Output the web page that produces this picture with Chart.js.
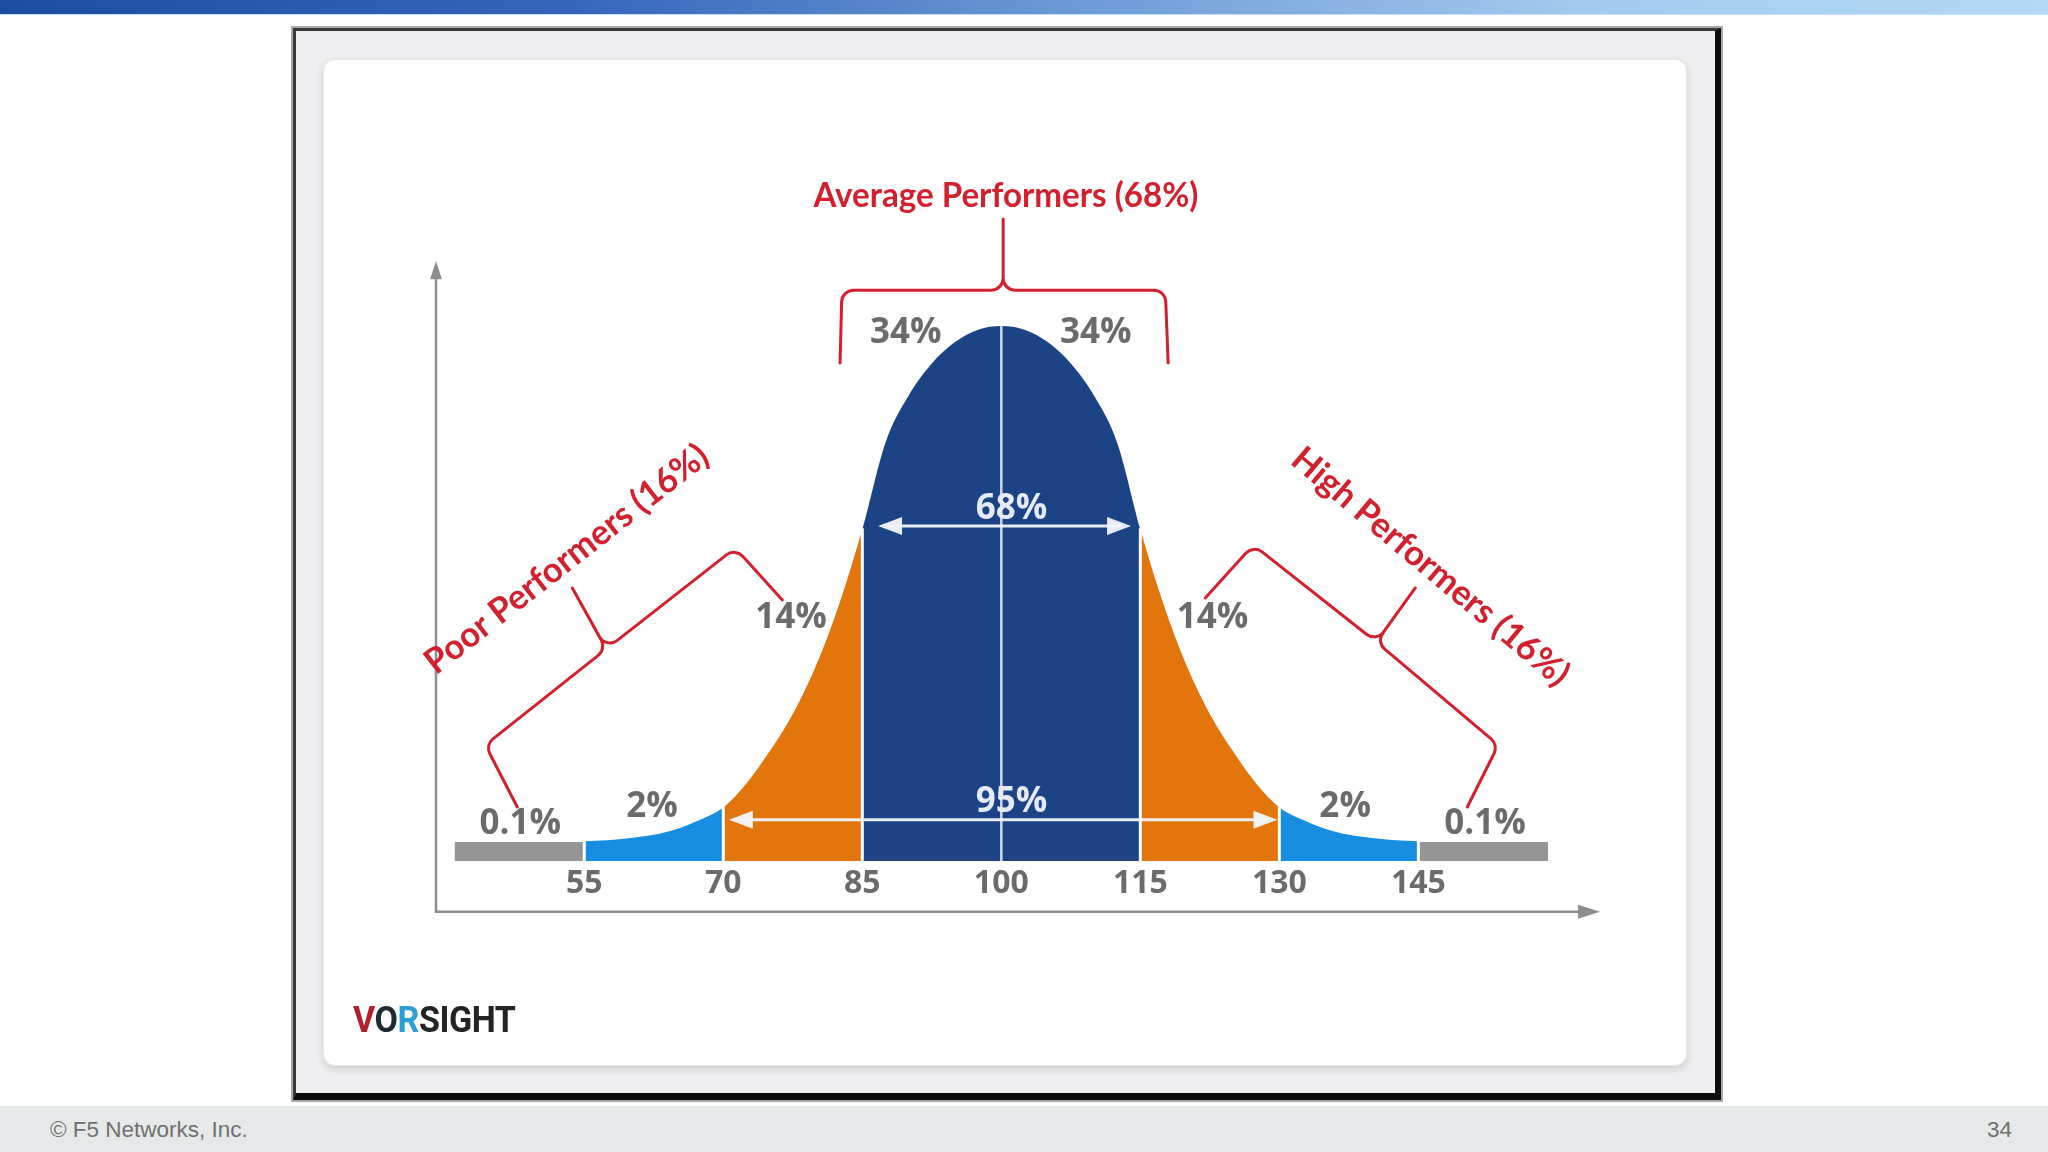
<!DOCTYPE html>
<html>
<head>
<meta charset="utf-8">
<title>Performance distribution</title>
<script src="https://cdn.jsdelivr.net/npm/chart.js@4.4.1/dist/chart.umd.min.js"></script>
<style>
	html, body { margin: 0; padding: 0; background: #fff; }
	#slide { position: relative; width: 2048px; height: 1152px; overflow: hidden; font-family: "Liberation Sans", Arial, sans-serif; }
	#topbar { position: absolute; left: 0; top: 0; width: 2048px; height: 14px; border-bottom: 1px solid #c6dcf3;
		background: linear-gradient(to right, #1b4ea3 0%, #3566ba 28%, #729fd9 55%, #a3ccef 78%, #b4d8f3 100%); }
	#frame { position: absolute; left: 293px; top: 28px; width: 1419px; height: 1062px; background: #efeef1;
		border-style: solid; border-width: 3px 6px 7px 3px; border-color: #3b3b3b #0d0d0d #0d0d0d #3b3b3b;
		box-shadow: 0 0 0 2px #a9a9a9; }
	#panel { position: absolute; left: 27px; top: 28px; width: 1362px; height: 1005px; background: #fff;
		border-radius: 12px; border: 1px solid #e8e8e8; box-shadow: 0 3px 9px rgba(0,0,0,0.15); }
	#logo { position: absolute; left: 353px; top: 1001px; font-family: Roboto, sans-serif; font-weight: 700; font-size: 37px;
		line-height: 1; letter-spacing: -0.5px; color: #232323; transform: scaleX(0.92); transform-origin: left top; z-index: 4; }
	#footer { position: absolute; left: 0; top: 1106px; width: 2048px; height: 46px; background: #e6e9ea; color: #707070; font-size: 22.5px; }
	#footer .left { position: absolute; left: 50px; top: 11px; }
	#footer .right { position: absolute; right: 36px; top: 11px; }
	#chart { position: absolute; left: 0; top: 0; width: 2048px; height: 1152px; z-index: 3; }
</style>
</head>
<body>
<div id="slide">
	<div id="topbar"></div>
	<div id="frame"><div id="panel"></div></div>
	<div id="logo"><span style="color:#b3202d">V</span><span style="color:#1f2a33">O</span><span style="color:#2b9fd6">R</span>SIGHT</div>
	<canvas id="chart" width="2048" height="1152"></canvas>
	<div id="footer"><span class="left">© F5 Networks, Inc.</span><span class="right">34</span></div>
</div>
<script>
// curve height (peak = 100)
var curveX = [55, 57.5, 60, 62.5, 65, 67.5, 70, 72.5, 75, 77.5, 80, 82.5, 85, 87.5, 90, 92.5, 95, 97.5, 100,
	102.5, 105, 107.5, 110, 112.5, 115, 117.5, 120, 122.5, 125, 127.5, 130, 132.5, 135, 137.5, 140, 142.5, 145];
var curveY = [3.7, 3.9, 4.3, 4.9, 6.0, 7.7, 10.0, 14.5, 20.5, 27.5, 36.5, 48.0, 62.0, 78.2, 87.0, 93.0, 97.0, 99.3, 100,
	99.3, 97.0, 93.0, 87.0, 78.2, 62.0, 48.0, 36.5, 27.5, 20.5, 14.5, 10.0, 7.7, 6.0, 4.9, 4.3, 3.9, 3.7];

var bandEdges = [55, 70, 85, 115, 130, 145];
var tailSpans = [[41, 55], [145, 159]];
var tailHeight = 3.55;
var tickValues = [55, 70, 85, 100, 115, 130, 145];

var shareLabels = ['0.1%', '2%', '14%', '34%', '34%', '14%', '2%', '0.1%'];
var spanLabels = ['68%', '95%'];
var groupLabels = ['Poor Performers (16%)', 'Average Performers (68%)', 'High Performers (16%)'];

// layout of the annotations, in axis units
var sharePos = [[48.1, 6.9], [62.3, 10.1], [77.3, 45.4], [89.7, 98.7], [110.2, 98.7], [122.8, 45.4], [137.1, 10.1], [152.2, 6.9]];
var spanArrows = [
	{ from: 86.7, to: 114.0, y: 62.6, lx: 101.1, ly: 65.8 },
	{ from: 70.6, to: 129.8, y: 7.7, lx: 101.1, ly: 11.0 }
];
var groupPos = [
	{ x: 53.1, y: 56.4, angle: -38, width: 349 },
	{ x: 100.5, y: 124.3, angle: 0, width: 385 },
	{ x: 146.3, y: 55.0, angle: 40, width: 350 }
];
var braces = [
	[[47.77, 10.09], [44.32, 21.68], [57.37, 39.63], [53.71, 51.03], [57.37, 39.63], [71.29, 58.5], [76.37, 48.79]],
	[[82.6, 93.1], [82.8, 106.7], [100.2, 106.7], [100.2, 120.0], [100.2, 106.7], [117.7, 106.7], [118.0, 93.1]],
	[[122.01, 49.16], [127.19, 59.07], [140.46, 40.93], [144.67, 51.03], [140.46, 40.93], [153.63, 21.68], [150.28, 10.09]]
];
var axisFrom = { x: 39, y: -9.5 };
var axisTo = { x: 164.6, y: 112.1 };

var bandColors = ['#168de0', '#e2760c', '#1c4386', '#e2760c', '#168de0'];
var tailColor = '#959595';
var textGrey = '#6b6b6b';
var red = '#d3202f';

function bandColorAt(x) {
	for (var i = 0; i < bandEdges.length - 1; i++) {
		if (x >= bandEdges[i] && x <= bandEdges[i + 1]) return bandColors[i];
	}
	return tailColor;
}

function heightAt(x) {
	var i = curveX.indexOf(x);
	return i < 0 ? tailHeight : curveY[i];
}

var curvePoints = [];
for (var i = 0; i < curveX.length; i++) {
	curvePoints.push({ x: curveX[i], y: curveY[i] });
}

var datasets = [{
	label: 'curve',
	data: curvePoints,
	fill: 'origin',
	borderWidth: 0,
	pointRadius: 0,
	cubicInterpolationMode: 'monotone',
	backgroundColor: bandColors[2],
	segment: {
		backgroundColor: function(ctx) {
			return bandColorAt((ctx.p0.parsed.x + ctx.p1.parsed.x) / 2);
		}
	}
}];
tailSpans.forEach(function(s) {
	datasets.push({
		label: 'tail',
		data: [{ x: s[0], y: tailHeight }, { x: s[1], y: tailHeight }],
		fill: 'origin',
		borderWidth: 0,
		pointRadius: 0,
		backgroundColor: tailColor
	});
});

function arrowHead(ctx, x, y, dx, dy, len, half) {
	ctx.beginPath();
	ctx.moveTo(x, y);
	ctx.lineTo(x - dx * len - dy * half, y - dy * len + dx * half);
	ctx.lineTo(x - dx * len + dy * half, y - dy * len - dx * half);
	ctx.closePath();
	ctx.fill();
}

function fitText(ctx, text, x, y, angle, width, font, color) {
	ctx.save();
	ctx.translate(x, y);
	ctx.rotate(angle * Math.PI / 180);
	ctx.font = font;
	var w = ctx.measureText(text).width;
	if (width) ctx.scale(width / w, 1);
	ctx.fillStyle = color;
	ctx.textAlign = 'center';
	ctx.textBaseline = 'middle';
	ctx.fillText(text, 0, 0);
	ctx.restore();
}

var decorations = {
	id: 'decorations',
	beforeDatasetsDraw: function(chart) {
		var ctx = chart.ctx, xs = chart.scales.x, ys = chart.scales.y;
		var x0 = xs.getPixelForValue(axisFrom.x), y0 = ys.getPixelForValue(axisFrom.y);
		var x1 = xs.getPixelForValue(axisTo.x), y1 = ys.getPixelForValue(axisTo.y);
		ctx.save();
		ctx.strokeStyle = '#8e8e8e';
		ctx.fillStyle = '#8e8e8e';
		ctx.lineWidth = 2.5;
		ctx.beginPath();
		ctx.moveTo(x0, y1 + 10);
		ctx.lineTo(x0, y0);
		ctx.lineTo(x1 - 10, y0);
		ctx.stroke();
		arrowHead(ctx, x0, y1, 0, -1, 18, 6);
		arrowHead(ctx, x1, y0, 1, 0, 22, 7);
		ctx.restore();
	},
	afterDatasetsDraw: function(chart) {
		var ctx = chart.ctx, xs = chart.scales.x, ys = chart.scales.y;
		var base = ys.getPixelForValue(0);
		ctx.save();

		// white gaps between the bands
		ctx.strokeStyle = '#ffffff';
		ctx.lineWidth = 3;
		bandEdges.forEach(function(e) {
			var px = xs.getPixelForValue(e);
			ctx.beginPath();
			ctx.moveTo(px, base + 1);
			ctx.lineTo(px, ys.getPixelForValue(heightAt(e)) - 1);
			ctx.stroke();
		});
		ctx.strokeStyle = 'rgba(214,226,244,0.95)';
		ctx.lineWidth = 2.5;
		ctx.beginPath();
		ctx.moveTo(xs.getPixelForValue(100), base);
		ctx.lineTo(xs.getPixelForValue(100), ys.getPixelForValue(heightAt(100)));
		ctx.stroke();

		// 68% and 95% spans
		spanArrows.forEach(function(a, i) {
			var ax0 = xs.getPixelForValue(a.from), ax1 = xs.getPixelForValue(a.to), ay = ys.getPixelForValue(a.y);
			ctx.strokeStyle = 'rgba(242,245,252,0.95)';
			ctx.fillStyle = 'rgba(242,245,252,0.95)';
			ctx.lineWidth = 3;
			ctx.beginPath();
			ctx.moveTo(ax0 + 10, ay);
			ctx.lineTo(ax1 - 10, ay);
			ctx.stroke();
			arrowHead(ctx, ax0, ay, -1, 0, 24, 9);
			arrowHead(ctx, ax1, ay, 1, 0, 24, 9);
			fitText(ctx, spanLabels[i], xs.getPixelForValue(a.lx), ys.getPixelForValue(a.ly), 0, 0,
				'bold 35px "Open Sans"', '#e4eaf6');
		});

		shareLabels.forEach(function(t, i) {
			fitText(ctx, t, xs.getPixelForValue(sharePos[i][0]), ys.getPixelForValue(sharePos[i][1]), 0, 0,
				'bold 35px "Open Sans"', textGrey);
		});

		// red braces and group titles
		ctx.strokeStyle = red;
		ctx.lineWidth = 3;
		ctx.lineJoin = 'round';
		ctx.lineCap = 'round';
		braces.forEach(function(b) {
			var pts = b.map(function(p) { return [xs.getPixelForValue(p[0]), ys.getPixelForValue(p[1])]; });
			ctx.beginPath();
			ctx.moveTo(pts[0][0], pts[0][1]);
			for (var k = 1; k < pts.length - 1; k++) {
				ctx.arcTo(pts[k][0], pts[k][1], pts[k + 1][0], pts[k + 1][1], 12);
			}
			ctx.lineTo(pts[pts.length - 1][0], pts[pts.length - 1][1]);
			ctx.stroke();
		});
		groupLabels.forEach(function(t, i) {
			var g = groupPos[i];
			fitText(ctx, t, xs.getPixelForValue(g.x), ys.getPixelForValue(g.y), g.angle, g.width,
				'bold 35px Lato', red);
		});
		ctx.restore();
	}
};

var bellChart = new Chart(document.getElementById('chart'), {
	type: 'line',
	data: { datasets: datasets },
	plugins: [decorations],
	options: {
		responsive: false,
		animation: false,
		events: [],
		layout: { padding: { left: 436, right: 448, top: 326, bottom: 244.6 } },
		plugins: { legend: { display: false }, tooltip: { enabled: false } },
		scales: {
			x: {
				type: 'linear',
				min: 39,
				max: 164.6,
				grid: { display: false, drawTicks: false },
				border: { display: false },
				afterBuildTicks: function(axis) {
					axis.ticks = tickValues.map(function(v) { return { value: v }; });
				},
				ticks: {
					padding: 4,
					color: textGrey,
					font: { family: 'Open Sans', weight: 'bold', size: 32 },
					callback: function(v) { return String(v); }
				}
			},
			y: { display: false, min: 0, max: 100 }
		}
	}
});
</script>
</body>
</html>
